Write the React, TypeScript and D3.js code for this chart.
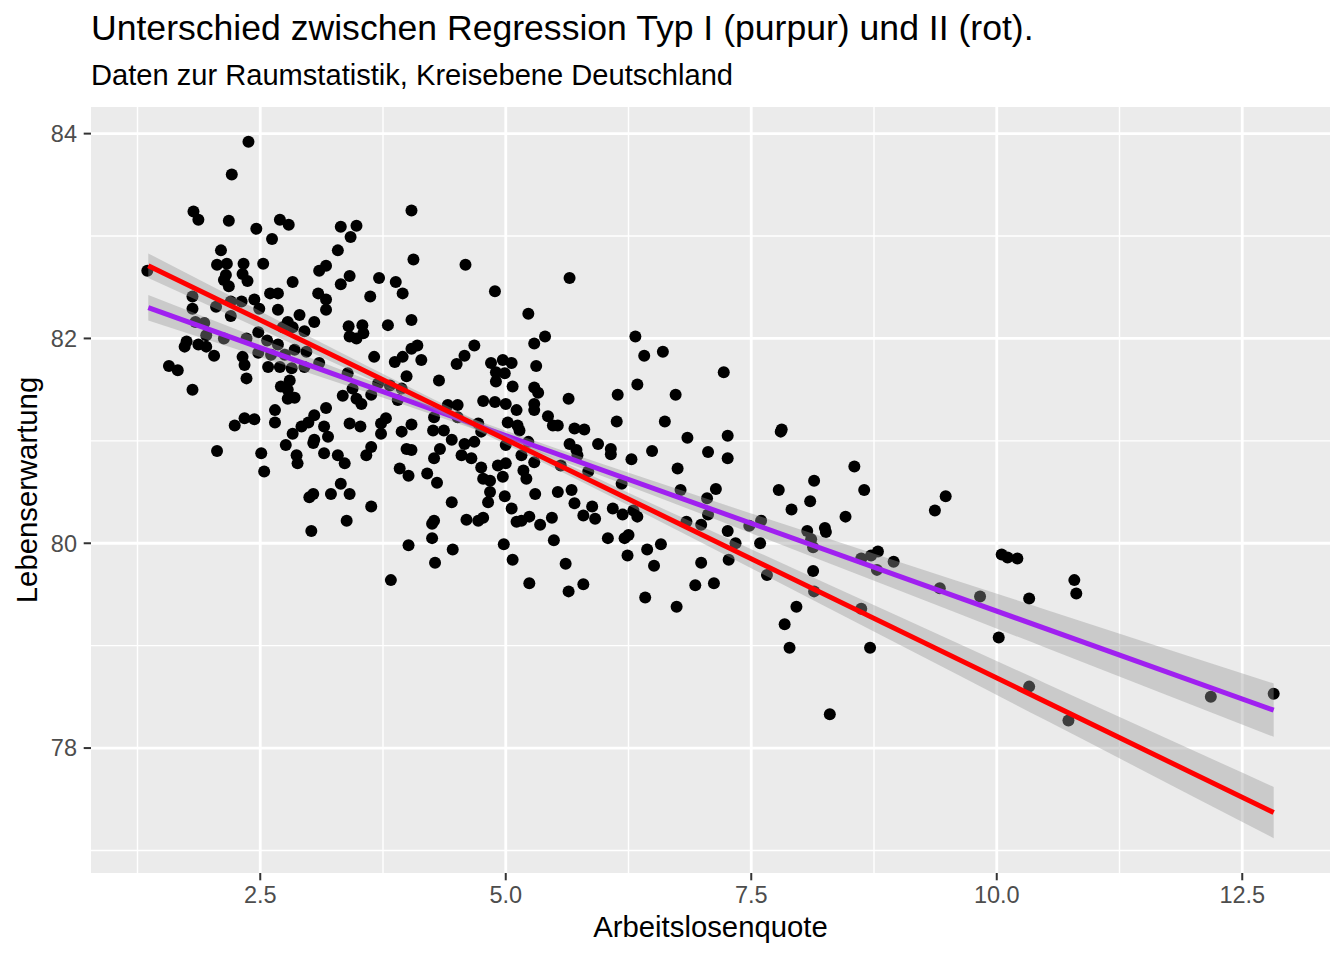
import React from "react";
import * as d3 from "d3";

// Arbeitslosenquote (x), Lebenserwartung (y) per Kreis
const kreise: [number, number][] = [
  [2.38,83.92],[2.21,83.60],[1.82,83.24],[1.87,83.16],[2.18,83.15],[2.46,83.07],[2.70,83.16],[2.79,83.11],
  [2.62,82.97],[2.10,82.86],[2.06,82.72],[2.16,82.73],[2.33,82.73],[2.53,82.73],[2.15,82.62],[2.32,82.63],
  [2.37,82.56],[2.13,82.57],[2.18,82.51],[1.35,82.66],[2.83,82.55],[3.10,82.66],[3.17,82.71],
  [1.81,82.41],[1.81,82.29],[2.05,82.31],[2.20,82.36],[2.31,82.36],[2.20,82.22],[2.44,82.38],[2.49,82.29],
  [2.60,82.44],[2.68,82.44],[2.68,82.28],[2.90,82.23],[2.78,82.16],[3.05,82.16],[3.17,82.28],[3.17,82.38],
  [3.09,82.44],[1.84,82.16],[1.93,82.15],[1.95,82.03],[1.75,81.97],[1.73,81.92],[1.87,81.94],[1.95,81.92],
  [2.03,81.83],[2.13,82.00],[2.36,82.00],[2.48,82.06],[2.57,81.98],[2.68,81.94],[2.73,82.11],[2.83,82.11],
  [2.95,82.07],[2.48,81.86],[2.61,81.84],[2.75,81.84],[2.85,81.89],[2.97,81.87],[3.10,81.76],[2.95,81.72],
  [2.82,81.71],[2.70,81.72],[2.58,81.72],[2.32,81.82],[2.34,81.74],[2.36,81.61],[1.57,81.73],[1.66,81.69],
  [1.81,81.50],[2.80,81.59],[2.71,81.53],[2.78,81.50],[2.85,81.42],[2.78,81.41],[3.17,81.32],[3.05,81.25],
  [2.99,81.18],[2.92,81.14],[2.83,81.07],[2.65,81.30],[2.65,81.18],[2.34,81.22],[2.44,81.21],[2.24,81.15],
  [3.15,81.14],[3.19,81.04],[3.05,81.01],[3.04,80.98],[2.76,80.96],[3.15,80.88],[2.87,80.86],[2.06,80.90],
  [2.51,80.88],
  [2.54,80.70],[2.88,80.78],[3.04,80.48],[3.00,80.45],[3.22,80.48],[3.02,80.12],
  [4.04,83.25],[3.32,83.09],[3.48,83.10],[3.42,82.99],[3.29,82.86],[4.06,82.77],[4.59,82.72],[3.41,82.61],
  [3.32,82.53],[3.71,82.59],[3.88,82.55],
  [3.62,82.41],[3.95,82.44],[4.89,82.46],[3.40,82.12],[3.54,82.13],[3.41,82.02],[3.48,82.00],[3.55,82.05],
  [3.80,82.13],[4.04,82.18],[5.23,82.24],[3.66,81.82],[4.04,81.90],[4.10,81.93],[3.95,81.82],[3.87,81.77],
  [4.14,81.79],[4.68,81.93],[4.58,81.83],[4.50,81.75],[4.85,81.76],[4.97,81.79],[5.06,81.76],[3.99,81.63],
  [4.32,81.59],[3.39,81.66],[3.44,81.51],[3.70,81.56],[3.82,81.54],[3.94,81.51],[3.63,81.45],[3.34,81.44],
  [3.48,81.41],[3.53,81.36],[3.90,81.40],[4.90,81.67],[4.99,81.66],[4.90,81.58],[5.07,81.53],[4.77,81.39],
  [4.89,81.38],[5.00,81.36],[5.11,81.30],[5.02,81.18],[5.12,81.15],[5.14,81.10],[4.41,81.35],[4.51,81.35],
  [4.51,81.23],[4.72,81.17],[4.75,81.09],[4.27,81.23],[4.26,81.10],[4.37,81.10],[4.45,81.01],[4.04,81.16],
  [3.94,81.09],[3.78,81.22],[3.73,81.17],[3.73,81.07],[3.41,81.17],[3.52,81.14],[4.58,80.97],[4.68,80.99],
  [5.00,80.96],[5.23,80.99],[5.16,80.86],[3.63,80.94],[3.99,80.92],[4.04,80.91],[4.33,80.92],[3.29,80.86],
  [3.58,80.86],[4.27,80.83],[4.55,80.86],[4.65,80.83],
  [3.36,80.78],[3.92,80.73],[4.01,80.66],[4.20,80.68],[4.30,80.59],[3.32,80.58],[3.41,80.48],[3.63,80.36],
  [3.38,80.22],[4.45,80.40],[4.27,80.22],[4.25,80.19],[4.25,80.05],[4.01,79.98],[4.46,79.94],[4.28,79.81],
  [3.83,79.64],[4.60,80.23],[4.72,80.22],[4.77,80.25],[4.99,80.46],[5.06,80.34],[4.82,80.40],[4.84,80.50],
  [4.77,80.63],[4.84,80.61],[4.97,80.65],[4.75,80.74],[4.92,80.76],[5.00,80.78],[5.21,80.63],[5.18,80.71],
  [4.98,79.99],[5.07,79.84],[5.24,79.61],[5.11,80.21],[5.16,80.22],[5.24,80.26],
  [5.65,82.59],[5.40,82.02],[5.29,81.95],[5.31,81.73],[5.29,81.52],[5.33,81.47],[5.29,81.36],[5.29,81.30],
  [5.64,81.41],[6.14,81.45],[6.13,81.19],[5.43,81.24],[5.48,81.15],[5.53,81.15],[5.70,81.12],[5.80,81.11],
  [6.32,82.02],[6.41,81.83],[6.60,81.87],[7.22,81.67],[6.34,81.55],[6.73,81.45],[6.62,81.19],
  [5.65,80.97],[5.72,80.91],[5.73,80.86],[5.94,80.97],[6.07,80.92],[6.07,80.87],[6.28,80.82],[6.49,80.90],
  [6.85,81.03],[7.26,81.05],[7.06,80.89],[7.26,80.83],[5.29,80.79],[5.56,80.76],[5.84,80.70],[5.30,80.48],
  [5.53,80.50],[5.67,80.52],[5.70,80.39],[6.18,80.58],[6.75,80.73],[6.78,80.52],[7.14,80.53],[7.05,80.44],
  [7.06,80.28],[6.99,80.18],[6.84,80.21],[7.26,80.12],[5.35,80.18],[5.47,80.25],[5.79,80.27],[5.88,80.36],
  [5.91,80.24],[6.09,80.34],[6.19,80.28],[6.30,80.32],[6.34,80.26],[5.49,80.03],[6.04,80.05],[6.21,80.05],
  [6.25,80.08],[6.24,79.88],[6.44,79.94],[6.58,79.99],[6.51,79.78],[5.61,79.80],[5.64,79.53],[5.79,79.60],
  [6.42,79.47],[6.74,79.38],[6.99,79.81],[6.93,79.59],[7.12,79.61],[7.27,79.84],
  [7.81,81.11],[7.80,81.09],[8.55,80.75],[8.14,80.61],[7.78,80.52],[8.65,80.52],[8.10,80.41],[7.91,80.33],
  [8.46,80.26],[9.48,80.46],[9.37,80.32],[7.60,80.22],[7.48,80.17],[8.07,80.12],[8.11,80.04],[8.25,80.15],
  [8.26,80.11],[8.13,79.96],[7.59,80.00],[7.34,80.00],[8.62,79.85],[8.72,79.88],[8.79,79.92],[8.95,79.82],
  [8.78,79.74],[8.13,79.73],[7.66,79.69],[8.14,79.53],[9.42,79.56],[9.83,79.48],[7.96,79.38],[8.62,79.36],
  [7.84,79.21],[7.89,78.98],[8.71,78.98],[8.30,78.33],
  [10.05,79.89],[10.11,79.86],[10.21,79.85],[10.79,79.64],[10.81,79.51],[10.33,79.46],[10.02,79.08],
  [10.33,78.60],[10.73,78.27],[12.18,78.50],[12.82,78.53],
];

// fitted lines (Typ I = purpur, Typ II = rot), endpoints
const fitX = [1.36, 12.82];
const typ1Y = [82.30, 78.37];
const typ2Y = [82.71, 77.37];
// confidence band half-widths
const bandX = [1.36, 2.5, 4, 5, 6, 7.5, 9, 10.5, 12.82];
const typ1Half = [0.125, 0.09, 0.055, 0.047, 0.059, 0.096, 0.14, 0.186, 0.26];
const typ2Half = [0.12, 0.087, 0.053, 0.046, 0.057, 0.093, 0.136, 0.18, 0.25];

const xMajor = [2.5, 5, 7.5, 10, 12.5];
const xMinor = [1.25, 3.75, 6.25, 8.75, 11.25];
const yMajor = [78, 80, 82, 84];
const yMinor = [77, 79, 81, 83];

const TITLE = "Unterschied zwischen Regression Typ I (purpur) und II (rot).";
const SUBTITLE = "Daten zur Raumstatistik, Kreisebene Deutschland";
const XLAB = "Arbeitslosenquote";
const YLAB = "Lebenserwartung";

const W = 1344, H = 960;
const P = { left: 91, right: 1330, top: 107, bottom: 873 };
const FONT = "'Liberation Sans', Arial, Helvetica, sans-serif";

export default function App() {
  const fits = [
    { y: typ1Y, half: typ1Half, color: "#A020F0" },
    { y: typ2Y, half: typ2Half, color: "#FF0000" },
  ].map((f) => {
    const lin = d3.scaleLinear().domain(fitX).range(f.y);
    const band = bandX.map((x, i) => ({ x, lo: lin(x) - f.half[i], hi: lin(x) + f.half[i] }));
    return { ...f, lin, band };
  });

  const allX = [...kreise.map((d) => d[0]), ...fitX];
  const allY = [
    ...kreise.map((d) => d[1]),
    ...fits.flatMap((f) => f.band.flatMap((b) => [b.lo, b.hi])),
  ];
  const [x0, x1] = d3.extent(allX) as [number, number];
  const [y0, y1] = d3.extent(allY) as [number, number];
  const ex = (x1 - x0) * 0.05, ey = (y1 - y0) * 0.05;

  const x = d3.scaleLinear().domain([x0 - ex, x1 + ex]).range([P.left, P.right]);
  const y = d3.scaleLinear().domain([y0 - ey, y1 + ey]).range([P.bottom, P.top]);

  const area = d3
    .area<{ x: number; lo: number; hi: number }>()
    .x((d) => x(d.x))
    .y0((d) => y(d.lo))
    .y1((d) => y(d.hi))
    .curve(d3.curveMonotoneX);

  const fmtX = d3.format(".1f");

  return (
    <svg
      width={W}
      height={H}
      style={{ position: "absolute", left: 0, top: 0, background: "#fff" }}
      fontFamily={FONT}
    >
      <rect x={0} y={0} width={W} height={H} fill="#ffffff" />
      <rect x={P.left} y={P.top} width={P.right - P.left} height={P.bottom - P.top} fill="#EBEBEB" />
      {xMinor.map((v) => (
        <line key={"xm" + v} x1={x(v)} x2={x(v)} y1={P.top} y2={P.bottom} stroke="#fff" strokeWidth={1.4} />
      ))}
      {yMinor.map((v) => (
        <line key={"ym" + v} y1={y(v)} y2={y(v)} x1={P.left} x2={P.right} stroke="#fff" strokeWidth={1.4} />
      ))}
      {xMajor.map((v) => (
        <line key={"xM" + v} x1={x(v)} x2={x(v)} y1={P.top} y2={P.bottom} stroke="#fff" strokeWidth={2.8} />
      ))}
      {yMajor.map((v) => (
        <line key={"yM" + v} y1={y(v)} y2={y(v)} x1={P.left} x2={P.right} stroke="#fff" strokeWidth={2.8} />
      ))}

      <g>
        {kreise.map((d, i) => (
          <circle key={i} cx={x(d[0])} cy={y(d[1])} r={6} fill="#000" />
        ))}
      </g>

      {fits.map((f, i) => (
        <g key={"fit" + i}>
          <path d={area(f.band) || ""} fill="#999999" fillOpacity={0.4} />
          <line
            x1={x(fitX[0])}
            x2={x(fitX[1])}
            y1={y(f.y[0])}
            y2={y(f.y[1])}
            stroke={f.color}
            strokeWidth={5}
          />
        </g>
      ))}

      {/* x axis */}
      {xMajor.map((v) => (
        <g key={"xt" + v}>
          <line x1={x(v)} x2={x(v)} y1={P.bottom} y2={P.bottom + 7.3} stroke="#333333" strokeWidth={2} />
          <text x={x(v)} y={903} textAnchor="middle" fontSize={23.5} fill="#4D4D4D">
            {fmtX(v)}
          </text>
        </g>
      ))}
      {/* y axis */}
      {yMajor.map((v) => (
        <g key={"yt" + v}>
          <line x1={P.left - 7.3} x2={P.left} y1={y(v)} y2={y(v)} stroke="#333333" strokeWidth={2} />
          <text x={77} y={y(v) + 8.4} textAnchor="end" fontSize={23.5} fill="#4D4D4D">
            {String(v)}
          </text>
        </g>
      ))}

      <text x={(P.left + P.right) / 2} y={937} textAnchor="middle" fontSize={29.3} fill="#000">
        {XLAB}
      </text>
      <text
        transform={`translate(37,${(P.top + P.bottom) / 2}) rotate(-90)`}
        textAnchor="middle"
        fontSize={29.3}
        fill="#000"
      >
        {YLAB}
      </text>

      <text x={P.left} y={40} fontSize={35.6} fill="#000">
        {TITLE}
      </text>
      <text x={P.left} y={85} fontSize={29.1} fill="#000">
        {SUBTITLE}
      </text>
    </svg>
  );
}
